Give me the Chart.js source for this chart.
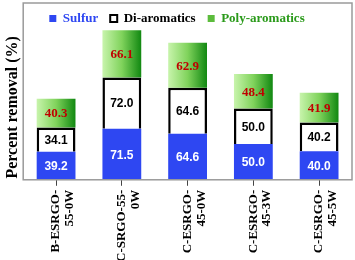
<!DOCTYPE html>
<html>
<head>
<meta charset="utf-8">
<script src="https://cdn.jsdelivr.net/npm/chart.js@4"></script>
<style>
  body { margin: 0; background: #fff; }
  #wrap { width: 355px; height: 260px; }
</style>
</head>
<body>
<div id="wrap"><canvas id="removalChart"></canvas></div>
<script>
const categories = [
    ["B-ESRGO-", "55-0W"],
    ["C-SRGO-55-", "0W"],
    ["C-ESRGO-", "45-0W"],
    ["C-ESRGO-", "45-3W"],
    ["C-ESRGO-", "45-5W"]
];
const sulfur = [39.2, 71.5, 64.6, 50.0, 40.0];
const diAromatics = [34.1, 72.0, 64.6, 50.0, 40.2];
const polyAromatics = [40.3, 66.1, 62.9, 48.4, 41.9];

const serif = "'Liberation Serif', 'Times New Roman', serif";
const sans = "'Liberation Sans', Arial, sans-serif";

// green fill, light on the left, dark on the right
function polyFill(context) {
    const chart = context.chart;
    if (!chart.chartArea) return "#6cc44c";
    const x = chart.scales.x;
    const half = (x.width / categories.length) * 0.59 / 2;
    const cx = x.getPixelForValue(context.dataIndex || 0);
    const g = chart.ctx.createLinearGradient(cx - half, 0, cx + half, 0);
    g.addColorStop(0, "#c8f4ac");
    g.addColorStop(0.5, "#80d35c");
    g.addColorStop(1, "#118811");
    return g;
}

const valueLabels = {
    id: "valueLabels",
    afterDatasetsDraw(chart) {
        const ctx = chart.ctx;
        ctx.save();
        ctx.textAlign = "center";
        ctx.textBaseline = "middle";
        chart.data.datasets.forEach((ds, i) => {
            const meta = chart.getDatasetMeta(i);
            meta.data.forEach((bar, j) => {
                const y = (bar.y + bar.base) / 2 + 1;
                if (i === 2) {
                    ctx.font = "bold 13px " + serif;
                    ctx.fillStyle = "#c00000";
                } else {
                    ctx.font = "bold 12px " + sans;
                    ctx.fillStyle = i === 0 ? "#ffffff" : "#000000";
                }
                ctx.fillText(ds.data[j].toFixed(1), bar.x, y);
            });
        });
        ctx.restore();
    }
};

// grey box round plot and legend
const frame = {
    id: "frame",
    afterDraw(chart) {
        const a = chart.chartArea;
        const top = chart.legend.top + 3;
        const ctx = chart.ctx;
        ctx.save();
        ctx.strokeStyle = "#9a9a9a";
        ctx.lineWidth = 1.5;
        ctx.strokeRect(a.left, top, a.right - a.left, a.bottom - top);
        ctx.restore();
    }
};

new Chart(document.getElementById("removalChart"), {
    type: "bar",
    data: {
        labels: categories,
        datasets: [{
            label: "Sulfur",
            data: sulfur,
            backgroundColor: "#2e47f2",
            borderWidth: 0
        }, {
            label: "Di-aromatics",
            data: diAromatics,
            backgroundColor: "#ffffff",
            borderColor: "#000000",
            borderWidth: 2.5
        }, {
            label: "Poly-aromatics",
            data: polyAromatics,
            backgroundColor: polyFill,
            borderWidth: 0,
            clip: false
        }]
    },
    options: {
        responsive: true,
        maintainAspectRatio: false,
        animation: false,
        layout: { padding: { top: 0, right: 3, bottom: -6, left: 2 } },
        datasets: { bar: { barPercentage: 0.59, categoryPercentage: 1 } },
        plugins: {
            tooltip: { enabled: false },
            legend: {
                position: "top",
                align: "center",
                labels: {
                    boxWidth: 7,
                    boxHeight: 7,
                    padding: 12,
                    font: { family: serif, size: 13, weight: "bold" },
                    generateLabels: () => [
                        { text: "Sulfur", fillStyle: "#2e47f2", strokeStyle: "#2e47f2", lineWidth: 0, fontColor: "#2e47f2", datasetIndex: 0 },
                        { text: "Di-aromatics", fillStyle: "#ffffff", strokeStyle: "#000000", lineWidth: 2, fontColor: "#000000", datasetIndex: 1 },
                        { text: "Poly-aromatics", fillStyle: "#5cbc3c", strokeStyle: "#5cbc3c", lineWidth: 0, fontColor: "#2a9a1a", datasetIndex: 2 }
                    ]
                }
            }
        },
        scales: {
            x: {
                stacked: true,
                border: { display: false },
                grid: { offset: false, drawOnChartArea: false, drawTicks: true, tickLength: 6, color: "#444" },
                ticks: {
                    maxRotation: 90,
                    minRotation: 90,
                    color: "#000",
                    padding: 4,
                    font: { family: serif, size: 13, weight: "bold", lineHeight: 1.05 }
                }
            },
            y: {
                stacked: true,
                min: 0,
                max: 203,
                border: { display: false },
                grid: { display: false, drawTicks: false },
                ticks: { display: false },
                title: {
                    display: true,
                    text: "Percent removal (%)",
                    color: "#000",
                    padding: 1,
                    font: { family: serif, size: 16, weight: "bold" }
                }
            }
        }
    },
    plugins: [valueLabels, frame]
});
</script>
</body>
</html>
